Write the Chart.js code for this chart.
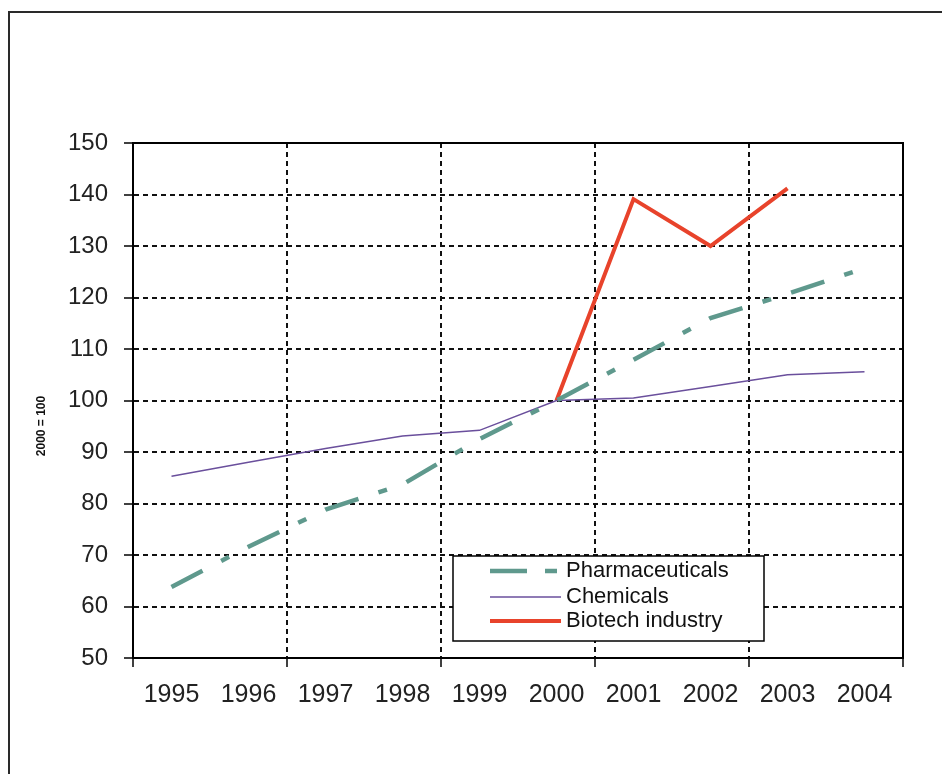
<!DOCTYPE html>
<html>
<head>
<meta charset="utf-8">
<title>Index 2000 = 100</title>
<script src="https://cdn.jsdelivr.net/npm/chart.js@4.4.1/dist/chart.umd.min.js"></script>
<style>
  html, body { margin: 0; padding: 0; background: #fff; overflow: hidden; }
  #wrap { position: relative; width: 942px; height: 774px; }
  #frame {
    position: absolute; left: 8px; top: 11px; width: 1000px; height: 1000px;
    border-left: 2px solid #2a2a2a; border-top: 2px solid #2a2a2a;
    pointer-events: none;
  }
  canvas { position: absolute; left: 0; top: 0; }
</style>
</head>
<body>
<div id="wrap">
  <canvas id="chart" width="942" height="774"></canvas>
  <div id="frame"></div>
</div>
<script>
// Index values, 2000 = 100
const years = ['1995', '1996', '1997', '1998', '1999', '2000', '2001', '2002', '2003', '2004'];
const pharmaceuticals = [63.8, 71.6, 78.8, 83.7, 92.5, 100, 107.9, 116, 120.7, 125.7];
const chemicals = [85.3, 88.0, 90.7, 93.1, 94.2, 100, 100.5, 102.7, 105, 105.6];
const biotech = [null, null, null, null, null, 100, 139.1, 130, 141.2, null];
const yTicks = [50, 60, 70, 80, 90, 100, 110, 120, 130, 140, 150];
const seriesNames = ['Pharmaceuticals', 'Chemicals', 'Biotech industry'];
const yAxisTitle = '2000 = 100';

const FONT = "'Liberation Sans', Arial, sans-serif";

// Solid frame along the top and right edges of the plot area
const plotFrame = {
  id: 'plotFrame',
  beforeDatasetsDraw(chart) {
    const { ctx, chartArea: a } = chart;
    ctx.save();
    ctx.strokeStyle = '#000';
    ctx.lineWidth = 2;
    ctx.beginPath();
    ctx.moveTo(a.left, a.top);
    ctx.lineTo(a.right, a.top);
    ctx.lineTo(a.right, a.bottom);
    ctx.stroke();
    ctx.restore();
  }
};

// Rotated value-axis caption
const axisCaption = {
  id: 'axisCaption',
  afterDraw(chart) {
    const { ctx } = chart;
    ctx.save();
    ctx.translate(42, 426);
    ctx.rotate(-Math.PI / 2);
    ctx.font = "bold 12px 'Liberation Sans', Arial, sans-serif";
    ctx.fillStyle = '#111';
    ctx.textAlign = 'center';
    ctx.textBaseline = 'middle';
    ctx.fillText(yAxisTitle, 0, 0);
    ctx.restore();
  }
};

// Boxed legend inside the plot area, styled from the datasets
const boxedLegend = {
  id: 'boxedLegend',
  afterDraw(chart) {
    const { ctx } = chart;
    const box = { x: 453, y: 556, w: 311, h: 85 };
    ctx.save();
    ctx.fillStyle = '#fff';
    ctx.fillRect(box.x, box.y, box.w, box.h);
    ctx.strokeStyle = '#000';
    ctx.lineWidth = 1.5;
    ctx.strokeRect(box.x, box.y, box.w, box.h);
    const rows = [571, 597, 621];
    chart.data.datasets.forEach((ds, i) => {
      const y = rows[i];
      ctx.save();
      ctx.strokeStyle = ds.borderColor;
      ctx.lineWidth = ds.borderWidth;
      ctx.setLineDash(ds.legendDash || []);
      ctx.lineCap = 'butt';
      ctx.beginPath();
      ctx.moveTo(490, y);
      ctx.lineTo(561, y);
      ctx.stroke();
      ctx.restore();
      ctx.fillStyle = '#111';
      ctx.font = '22px ' + FONT;
      ctx.textAlign = 'left';
      ctx.textBaseline = 'middle';
      ctx.fillText(ds.label, 566, y);
    });
    ctx.restore();
  }
};

new Chart(document.getElementById('chart'), {
  type: 'line',
  data: {
    labels: years,
    datasets: [
      {
        label: seriesNames[0],
        data: pharmaceuticals,
        borderColor: '#5f998d',
        borderWidth: 4.5,
        borderDash: [35, 21, 9, 21],
        legendDash: [37, 18, 12, 40],
        pointRadius: 0,
        tension: 0,
        fill: false
      },
      {
        label: seriesNames[1],
        data: chemicals,
        borderColor: '#6a4f9c',
        borderWidth: 1.5,
        pointRadius: 0,
        tension: 0,
        fill: false
      },
      {
        label: seriesNames[2],
        data: biotech,
        borderColor: '#e8432b',
        borderWidth: 4,
        pointRadius: 0,
        tension: 0,
        fill: false,
        spanGaps: false
      }
    ]
  },
  options: {
    responsive: false,
    animation: false,
    events: [],
    layout: { padding: { left: 0, top: 143, right: 39, bottom: 0 } },
    plugins: {
      legend: { display: false },
      tooltip: { enabled: false },
      title: { display: false }
    },
    scales: {
      x: {
        type: 'category',
        offset: true,
        grid: {
          offset: true,
          // a line at every second category boundary
          color: (c) => (c.index === undefined || c.index === 0 || c.index % 2 === 1) ? 'rgba(0,0,0,0)' : '#111',
          tickColor: (c) => (c.index === undefined || c.index % 2 === 0) ? '#000' : 'rgba(0,0,0,0)',
          lineWidth: 2,
          tickWidth: 1.5,
          tickLength: 9
        },
        border: { display: true, color: '#000', width: 2, dash: [5, 4] },
        ticks: {
          autoSkip: false,
          maxRotation: 0,
          minRotation: 0,
          padding: 13,
          color: '#222',
          font: { family: FONT, size: 25 }
        },
        afterFit(scale) { scale.height = 116; }
      },
      y: {
        min: 50,
        max: 150,
        afterBuildTicks(scale) { scale.ticks = yTicks.map(v => ({ value: v })); },
        grid: {
          color: (c) => (c.tick && (c.tick.value === 50 || c.tick.value === 150)) ? 'rgba(0,0,0,0)' : '#111',
          lineWidth: 2,
          tickColor: '#000',
          tickWidth: 1.5,
          tickLength: 9
        },
        border: { display: true, color: '#000', width: 2, dash: [5, 4] },
        ticks: {
          padding: 16,
          color: '#222',
          font: { family: FONT, size: 24 }
        },
        title: { display: false },
        afterFit(scale) { scale.width = 133; }
      }
    }
  },
  plugins: [plotFrame, axisCaption, boxedLegend]
});
</script>
</body>
</html>
